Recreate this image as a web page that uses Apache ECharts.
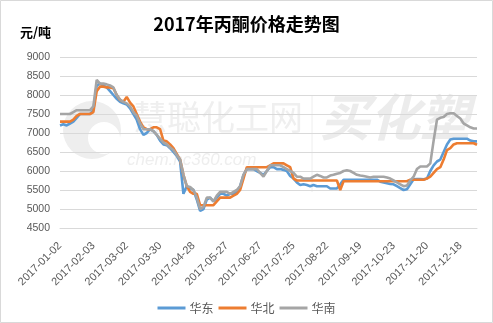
<!DOCTYPE html>
<html>
<head>
<meta charset="utf-8">
<script src="https://cdn.jsdelivr.net/npm/echarts@6/dist/echarts.min.js"></script>
<style>
html,body{margin:0;padding:0;background:#fff;}
#chart{width:493px;height:323px;}
</style>
</head>
<body>
<div id="chart"></div>
<script>
var titleText = '2017年丙酮价格走势图';
var unitText = '元/吨';
var tickLabels = ['2017-01-02','2017-02-03','2017-03-02','2017-03-30','2017-04-28','2017-05-27','2017-06-27','2017-07-25','2017-08-22','2017-09-19','2017-10-23','2017-11-20','2017-12-18'];
var seriesNames = ['华东','华北','华南'];

var huadong = [
7200,7230,7200,7250,7300,7400,7500,7500,7500,7500,
7600,8250,8300,8250,8200,8100,8000,7900,7820,7780,
7750,7650,7500,7350,7100,6950,7000,7100,7050,6950,
6800,6700,6680,6600,6500,6400,6250,5400,5600,5550,
5500,5250,4950,5000,5250,5300,5200,5300,5400,5400,
5350,5400,5400,5450,5600,5900,6050,6050,6050,6000,
5950,5900,6000,6100,6100,6050,6050,6030,6000,5870,
5800,5700,5630,5650,5630,5600,5630,5600,5600,5600,
5600,5540,5540,5540,5650,5770,5770,5770,5770,5770,
5770,5770,5770,5770,5770,5770,5720,5700,5680,5660,
5650,5600,5550,5500,5520,5650,5780,5790,5790,5780,
5800,6000,6150,6250,6300,6500,6700,6830,6850,6850,
6850,6850,6850,6800,6780,6780
];
var huabei = [
7300,7300,7300,7300,7350,7450,7500,7500,7500,7500,
7550,8100,8220,8220,8200,8200,8180,8000,7870,7820,
7950,7800,7700,7500,7300,7150,7100,7100,7150,7150,
7100,6800,6780,6700,6600,6450,6300,5900,5600,5450,
5400,5400,5100,5100,5100,5100,5100,5200,5300,5300,
5300,5300,5350,5400,5500,5800,6100,6100,6100,6100,
6100,6100,6100,6150,6200,6200,6200,6200,6150,6100,
5800,5750,5750,5750,5750,5750,5750,5750,5750,5750,
5750,5750,5750,5750,5500,5730,5730,5730,5730,5730,
5730,5730,5730,5730,5730,5730,5730,5730,5730,5730,
5730,5730,5730,5730,5730,5770,5770,5770,5770,5770,
5800,5850,5950,6050,6100,6300,6550,6600,6700,6730,
6730,6730,6730,6730,6730,6690
];
var huanan = [
7500,7500,7500,7500,7550,7600,7600,7600,7600,7600,
7700,8400,8300,8300,8280,8250,8200,8000,7880,7820,
7780,7700,7550,7450,7250,7100,7100,7100,7050,6950,
6850,6750,6700,6620,6550,6420,6300,5900,5600,5580,
5500,5300,5000,5050,5300,5300,5200,5350,5450,5450,
5450,5400,5450,5500,5600,5900,6050,6050,6050,6050,
5950,5850,6000,6150,6150,6150,6150,6100,6050,6000,
5950,5850,5850,5800,5800,5800,5850,5900,5870,5830,
5830,5880,5900,5930,5950,6000,6020,6000,5950,5900,
5880,5870,5850,5830,5850,5850,5850,5850,5830,5800,
5750,5700,5650,5600,5620,5750,5850,6050,6120,6120,
6120,6200,6800,7350,7400,7420,7500,7520,7520,7450,
7380,7250,7200,7150,7120,7120
];

var pointsPerTick = 10;
var categories = [];
for (var i = 0; i < huadong.length; i++) {
  var k = i / pointsPerTick;
  categories.push((i % pointsPerTick === 0 && k < tickLabels.length) ? tickLabels[k] : '');
}

var chart = echarts.init(document.getElementById('chart'));
var lineW = 2.6;
chart.setOption({
  animation: false,
  backgroundColor: '#ffffff',
  color: ['#5B9BD5', '#ED7D31', '#A5A5A5'],
  title: {
    text: titleText,
    left: 'center',
    top: 10,
    textStyle: {fontFamily: 'Noto Sans CJK SC', fontSize: 18, fontWeight: 'bold', color: '#000'}
  },
  graphic: [
    {type: 'rect', shape: {x: 0.5, y: 0.5, width: 492, height: 322}, style: {fill: null, stroke: '#d9d9d9', lineWidth: 1}, z: 100, silent: true},
    {type: 'text', left: 20, top: 26, style: {text: unitText, font: 'bold 13px "Noto Sans CJK SC"', fill: '#000'}},
    {type: 'circle', shape: {cx: 92, cy: 130, r: 29}, style: {fill: '#eeeeee'}, z: -10, silent: true},
    {type: 'circle', shape: {cx: 104, cy: 138, r: 16}, style: {fill: '#ffffff'}, z: -9, silent: true},
    {type: 'text', x: 133, y: 100, style: {text: '慧聪化工网', font: '34px "Noto Sans CJK SC"', fill: '#efefef'}, z: -10, silent: true},
    {type: 'text', x: 127, y: 152, style: {text: 'chem.hc360.com', font: 'italic 17px "Liberation Sans"', fill: '#eeeeee'}, z: -10, silent: true},
    {type: 'line', shape: {x1: 312, y1: 95, x2: 312, y2: 192}, style: {stroke: '#eeeeee', lineWidth: 1}, z: -10, silent: true},
    {type: 'text', x: 320, y: 92, style: {text: '买化塑', font: 'italic bold 50px "Noto Sans CJK SC"', fill: '#ececec'}, z: -10, silent: true}
  ],
  legend: {
    data: seriesNames,
    bottom: 4,
    left: 'center',
    icon: 'rect',
    itemWidth: 28,
    itemHeight: 3,
    itemGap: 5,
    textStyle: {fontFamily: 'Noto Sans CJK SC', fontSize: 12, color: '#595959', padding: [0, 0, 0, -1]}
  },
  grid: {left: 60, right: 16, top: 57, bottom: 95, containLabel: false},
  xAxis: {
    type: 'category',
    data: categories,
    boundaryGap: false,
    axisLine: {show: true, lineStyle: {color: '#d9d9d9', width: 1}},
    axisTick: {show: false},
    axisLabel: {interval: 0, rotate: 45, margin: 16, fontFamily: 'Liberation Sans', fontSize: 11, color: '#595959'},
    splitLine: {show: false}
  },
  yAxis: {
    type: 'value',
    min: 4500,
    max: 9000,
    interval: 500,
    axisLine: {show: false},
    axisTick: {show: false},
    axisLabel: {margin: 10, fontFamily: 'Liberation Sans', fontSize: 10.5, color: '#595959', formatter: function (v) { return String(v); }},
    splitLine: {lineStyle: {color: '#d9d9d9', width: 1}}
  },
  series: [
    {name: seriesNames[0], type: 'line', data: huadong, showSymbol: false, lineStyle: {width: lineW}, z: 3},
    {name: seriesNames[1], type: 'line', data: huabei, showSymbol: false, lineStyle: {width: lineW}, z: 4},
    {name: seriesNames[2], type: 'line', data: huanan, showSymbol: false, lineStyle: {width: lineW}, z: 5}
  ]
});
</script>
</body>
</html>
